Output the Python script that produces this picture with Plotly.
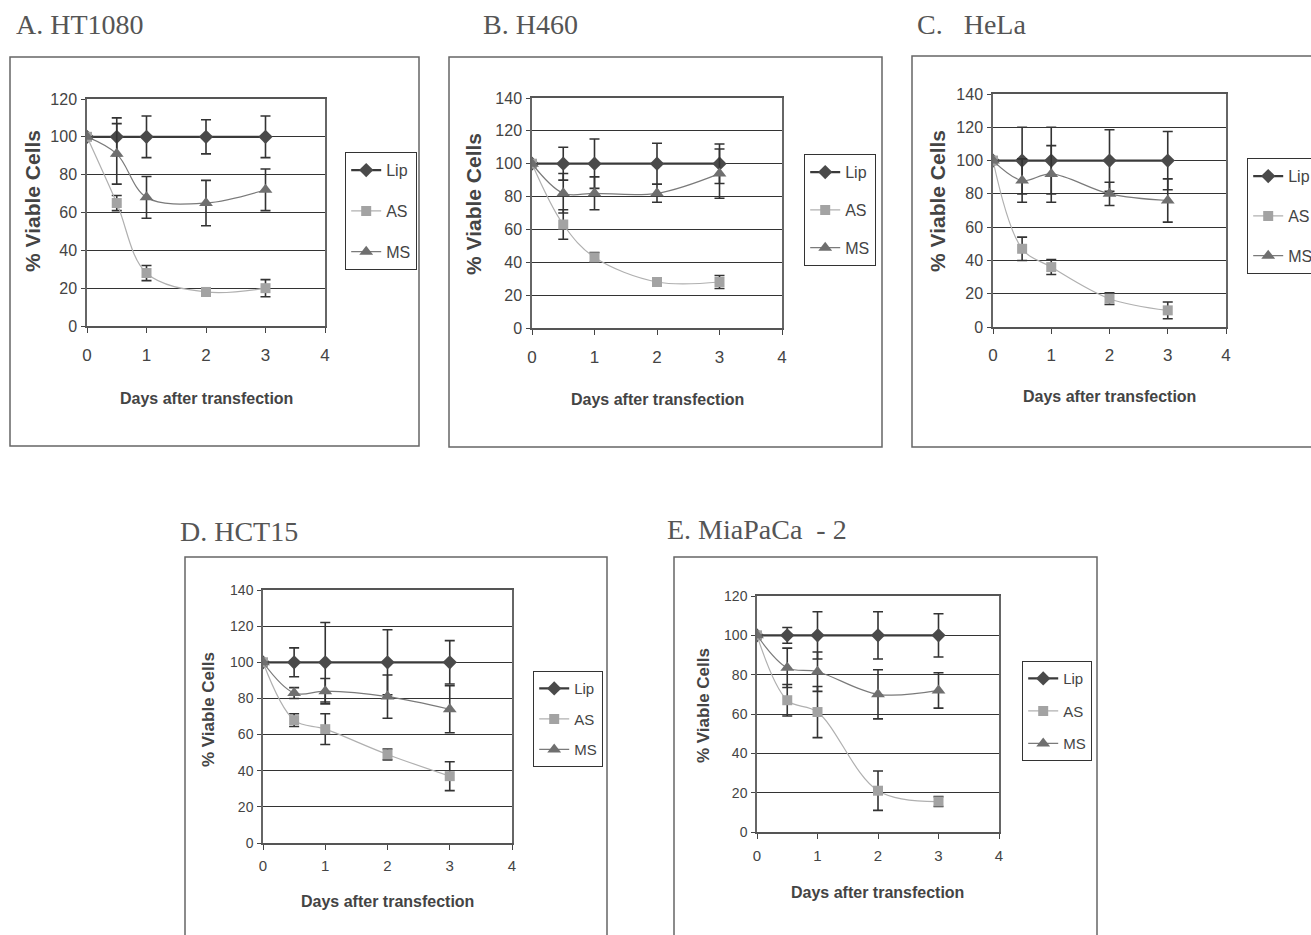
import plotly.graph_objects as go

W, H = 1311, 935

# ---------------- data ----------------
days = [0, 0.5, 1, 2, 3]
series_names = ["Lip", "AS", "MS"]
x_ticks = [0, 1, 2, 3, 4]
panel_titles = ["A. HT1080", "B. H460", "C.   HeLa", "D. HCT15", "E. MiaPaCa  - 2"]
y_max = [120, 140, 140, 140, 120]

ht1080_lip = [100, 100, 100, 100, 100]
ht1080_lip_err = [0, 10, 11, 9, 11]
ht1080_as = [100, 65, 28, 18, 20]
ht1080_as_err = [0, 4, 4, 2, 4.5]
ht1080_ms = [100, 91, 68, 65, 72]
ht1080_ms_err = [0, 16, 11, 12, 11]

h460_lip = [100, 100, 100, 100, 100]
h460_lip_err = [0, 10, 15, 12.5, 12]
h460_as = [100, 63, 43, 28, 28]
h460_as_err = [0, 9, 3, 2, 4]
h460_ms = [100, 82, 82, 82, 94]
h460_ms_err = [0, 12, 10, 5.5, 15]

hela_lip = [100, 100, 100, 100, 100]
hela_lip_err = [0, 20, 20, 18.5, 17.5]
hela_as = [100, 47, 36, 17, 10]
hela_as_err = [0, 7, 4.5, 3.5, 5]
hela_ms = [100, 88, 92, 80, 76]
hela_ms_err = [0, 13, 17, 7, 13]

hct15_lip = [100, 100, 100, 100, 100]
hct15_lip_err = [0, 8, 22, 18, 12]
hct15_as = [100, 68, 63, 49, 37]
hct15_as_err = [0, 3.5, 8.5, 3, 8]
hct15_ms = [100, 83, 84, 81, 74]
hct15_ms_err = [0, 3, 7, 12, 13]

miapaca_lip = [100, 100, 100, 100, 100]
miapaca_lip_err = [0, 4, 12, 12, 11]
miapaca_as = [100, 67, 61, 21, 15.5]
miapaca_as_err = [0, 8, 13, 10, 2.5]
miapaca_ms = [100, 83.5, 81.5, 70, 72]
miapaca_ms_err = [0, 10, 10, 12.5, 9]

panels_data = [
    [(ht1080_lip, ht1080_lip_err), (ht1080_as, ht1080_as_err), (ht1080_ms, ht1080_ms_err)],
    [(h460_lip, h460_lip_err), (h460_as, h460_as_err), (h460_ms, h460_ms_err)],
    [(hela_lip, hela_lip_err), (hela_as, hela_as_err), (hela_ms, hela_ms_err)],
    [(hct15_lip, hct15_lip_err), (hct15_as, hct15_as_err), (hct15_ms, hct15_ms_err)],
    [(miapaca_lip, miapaca_lip_err), (miapaca_as, miapaca_as_err), (miapaca_ms, miapaca_ms_err)],
]

# ---------------- layout geometry (pixels) ----------------
plot_px = [(87, 325, 99, 326), (532, 782, 98, 328), (993, 1226, 94, 327),
           (263, 512, 590, 843), (757, 999, 596, 832)]
box_px = [(10, 419, 57, 446), (449, 882, 57, 447), (912, 1330, 56, 447),
          (185, 607, 557, 960), (674, 1097, 557, 960)]
legend_px = [(345, 152), (804, 154), (1247, 158), (533, 671), (1022, 661)]
title_px = [(14, 25), (481, 25), (915, 25), (178, 531), (665, 529)]
ytitle_px = [(32, 201), (474, 204), (937, 201), (208, 709), (703, 706)]
xtitle_y = [398, 400, 397, 901, 892]
top_row = [True, True, True, False, False]
xstand = [8, 8, 7, 3, 4]
group_gap = [17, 14, 16, 8, 10]

styles = [
    dict(symbol="diamond", msize=11, mcolor="#4a4a4a", lcolor="#3a3a3a", lwidth=2.2),
    dict(symbol="square", msize=10, mcolor="#a3a3a3", lcolor="#b0b0b0", lwidth=1.2),
    dict(symbol="triangle-up", msize=12, mcolor="#6f6f6f", lcolor="#7a7a7a", lwidth=1.2),
]

SANS = "Liberation Sans, Arial, sans-serif"
SERIF = "Liberation Serif, Times New Roman, serif"

def px_x(p):
    return p / W

def px_y(p):
    return 1 - p / H

fig = go.Figure()
layout = dict(
    width=W, height=H,
    margin=dict(l=0, r=0, t=0, b=0, autoexpand=False),
    paper_bgcolor="white", plot_bgcolor="white",
    showlegend=True,
)
shapes = []
annotations = []

for i in range(5):
    ax = "" if i == 0 else str(i + 1)
    leg = "legend" if i == 0 else f"legend{i + 1}"
    tick_size = 16 if top_row[i] else 14
    for j, (vals, errs) in enumerate(panels_data[i]):
        s = styles[j]
        fig.add_trace(go.Scatter(
            x=days, y=vals, name=series_names[j],
            xaxis="x" + ax, yaxis="y" + ax, legend=leg,
            legendgroup=f"p{i}s{j}",
            mode="lines+markers",
            line=dict(color=s["lcolor"], width=s["lwidth"], shape="spline", smoothing=1.0),
            marker=dict(symbol=s["symbol"], size=s["msize"], color=s["mcolor"]),
            error_y=dict(type="data", array=errs, visible=True, color="#333333",
                         thickness=1.6, width=5),
        ))
    l, r, t, b = plot_px[i]
    layout["xaxis" + ax] = dict(
        domain=[px_x(l), px_x(r)], anchor="y" + ax, range=[0, 4],
        tickvals=x_ticks, ticks="outside", ticklen=5, tickcolor="#444",
        showgrid=False, zeroline=False, showline=True, mirror=True,
        linecolor="#555", linewidth=1.5,
        tickfont=dict(family=SANS, size=tick_size + 1, color="#444"),
        ticklabelstandoff=xstand[i],
    )
    layout["yaxis" + ax] = dict(
        domain=[px_y(b), px_y(t)], anchor="x" + ax, range=[0, y_max[i]],
        dtick=20, ticks="outside", ticklen=4, tickcolor="#444",
        showgrid=True, gridcolor="#333333", gridwidth=1.4, zeroline=False,
        showline=True, mirror=True, linecolor="#666", linewidth=1.5,
        tickfont=dict(family=SANS, size=tick_size, color="#444"),
        ticklabelstandoff=1,
    )
    lx, ly = legend_px[i]
    layout[leg] = dict(
        x=px_x(lx), y=px_y(ly), xanchor="left", yanchor="top",
        xref="paper", yref="paper",
        bordercolor="#333", borderwidth=1.2, bgcolor="white",
        font=dict(family=SANS, size=16 if top_row[i] else 15, color="#444"),
        tracegroupgap=group_gap[i], traceorder="grouped",
        itemwidth=30,
    )
    bx0, bx1, by0, by1 = box_px[i]
    shapes.append(dict(type="rect", xref="paper", yref="paper",
                       x0=px_x(bx0), x1=px_x(bx1), y0=px_y(by1), y1=px_y(by0),
                       line=dict(color="#666", width=1.5), layer="below"))
    tx, ty = title_px[i]
    annotations.append(dict(text=panel_titles[i], xref="paper", yref="paper",
                            x=px_x(tx), y=px_y(ty), xanchor="left", yanchor="middle",
                            showarrow=False,
                            font=dict(family=SERIF, size=28, color="#555")))
    yx, yy = ytitle_px[i]
    annotations.append(dict(text="<b>% Viable Cells</b>", xref="paper", yref="paper",
                            x=px_x(yx), y=px_y(yy), xanchor="center", yanchor="middle",
                            textangle=-90, showarrow=False,
                            font=dict(family=SANS, size=21 if top_row[i] else 17,
                                      color="#444")))
    annotations.append(dict(text="<b>Days after transfection</b>", xref="paper", yref="paper",
                            x=px_x((l + r) / 2), y=px_y(xtitle_y[i]),
                            xanchor="center", yanchor="middle", showarrow=False,
                            font=dict(family=SANS, size=16, color="#444")))

layout["shapes"] = shapes
layout["annotations"] = annotations
fig.update_layout(**layout)
fig.write_html("out.html",
               config={"displayModeBar": False},
               post_script="document.body.style.margin='0';document.body.style.overflow='hidden';")
